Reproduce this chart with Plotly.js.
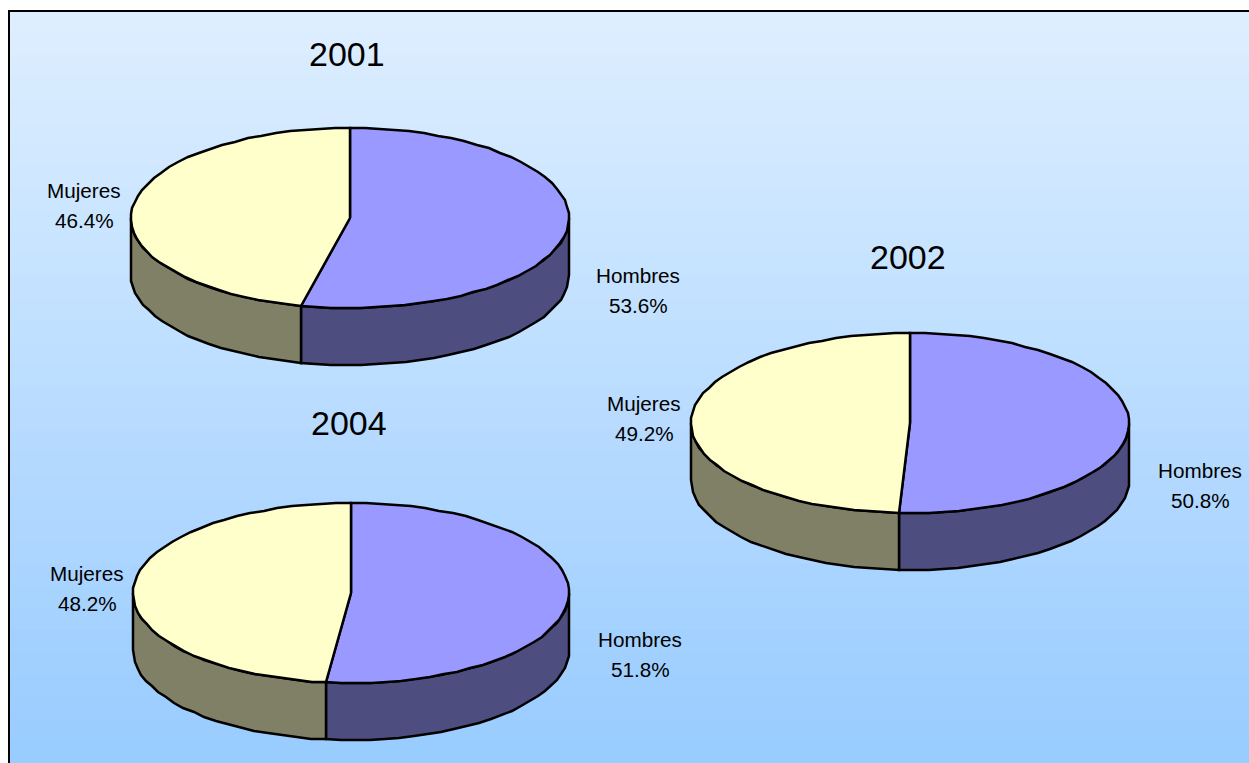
<!DOCTYPE html>
<html><head><meta charset="utf-8">
<script src="https://cdn.plot.ly/plotly-3.0.1.min.js"></script>
<style>html,body{margin:0;padding:0;background:#fff;overflow:hidden}#c{width:1249px;height:763px}</style>
</head><body><div id="c"></div>
<script>
const years = ['2001','2002','2004'];
const categories = ['Hombres','Mujeres'];
const hombres = [53.6,50.8,51.8];
const mujeres = [46.4,49.2,48.2];

const colors = {Hombres:'#9999FF',Mujeres:'#FFFFCC',HombresSide:'#4D4D80',MujeresSide:'#808066'};
const pies = [
 {cx:350,cy:218,rx:219,ry:90,depth:57,title:[347,54],hLabel:[638,275],mLabel:[84,190]},
 {cx:910,cy:423,rx:219,ry:90,depth:57,title:[908,257],hLabel:[1200,470],mLabel:[644,403]},
 {cx:351,cy:593,rx:218,ry:90,depth:57,title:[349,423],hLabel:[640,639],mLabel:[87,573]}
];
const LINE_GAP = 30.5;

function pt(p,deg,dy){
  const a = deg*Math.PI/180;
  return [Math.round(p.cx+p.rx*Math.sin(a)), Math.round(p.cy-p.ry*Math.cos(a)+(dy||0))];
}
function arc(p,a0,a1,dy){
  const out=[]; const step=4; const n=Math.max(1,Math.ceil(Math.abs(a1-a0)/step));
  for(let i=0;i<=n;i++) out.push(pt(p,a0+(a1-a0)*i/n,dy));
  return out;
}
function poly(points,fill){
  return {type:'scatter',mode:'lines',x:points.map(q=>q[0]),y:points.map(q=>q[1]),
    fill:'toself',fillcolor:fill,line:{color:'#000',width:2.5,shape:'linear'},
    hoverinfo:'skip',showlegend:false,cliponaxis:false};
}
const traces=[]; const annotations=[];
function label(xy,text,size){
  annotations.push({x:xy[0],y:xy[1],text:text,showarrow:false,xanchor:'center',yanchor:'middle',
    font:{family:'Liberation Sans, Arial, sans-serif',size:size,color:'#000'}});
}
years.forEach((yr,i)=>{
  const p=pies[i]; const split=hombres[i]/(hombres[i]+mujeres[i])*360;
  // side walls
  const hTop=arc(p,90,split,0), hBot=arc(p,split,90,p.depth);
  traces.push(poly([...hTop,...hBot,hTop[0]],colors.HombresSide));
  const mTop=arc(p,split,270,0), mBot=arc(p,270,split,p.depth);
  traces.push(poly([...mTop,...mBot,mTop[0]],colors.MujeresSide));
  // top faces
  const apex=[p.cx,p.cy];
  traces.push(poly([apex,...arc(p,0,split,0),apex],colors.Hombres));
  traces.push(poly([apex,...arc(p,split,360,0),apex],colors.Mujeres));
  label(p.title,yr,34);
  label(p.hLabel,categories[0],20.7);
  label([p.hLabel[0],p.hLabel[1]+LINE_GAP],hombres[i].toFixed(1)+'%',20.7);
  label(p.mLabel,categories[1],20.7);
  label([p.mLabel[0],p.mLabel[1]+LINE_GAP],mujeres[i].toFixed(1)+'%',20.7);
});

// stepped background gradient, top to bottom; each band runs to the bottom so no seams appear
const gradTop=[221,238,255], gradBot=[153,204,255], bands=34, y0=11, y1=763;
const shapes=[];
for(let b=0;b<bands;b++){
  const t=b/(bands-1);
  const c=gradTop.map((v,k)=>Math.round(v+(gradBot[k]-v)*t));
  shapes.push({type:'rect',layer:'below',xref:'x',yref:'y',x0:9,x1:1249,
    y0:Math.round(y0+(y1-y0)*b/bands),y1:y1,line:{width:0},fillcolor:`rgb(${c.join(',')})`});
}
shapes.push({type:'rect',layer:'below',xref:'x',yref:'y',x0:9,x1:1262,y0:11,y1:775,line:{color:'#000',width:2},fillcolor:'rgba(0,0,0,0)'});

Plotly.newPlot('c',traces,{
  width:1249,height:763,margin:{l:0,r:0,t:0,b:0},paper_bgcolor:'#fff',plot_bgcolor:'#fff',
  xaxis:{range:[0,1249],visible:false,fixedrange:true},
  yaxis:{range:[763,0],visible:false,fixedrange:true},
  shapes:shapes,annotations:annotations,showlegend:false
},{displayModeBar:false,staticPlot:true});
</script></body></html>
